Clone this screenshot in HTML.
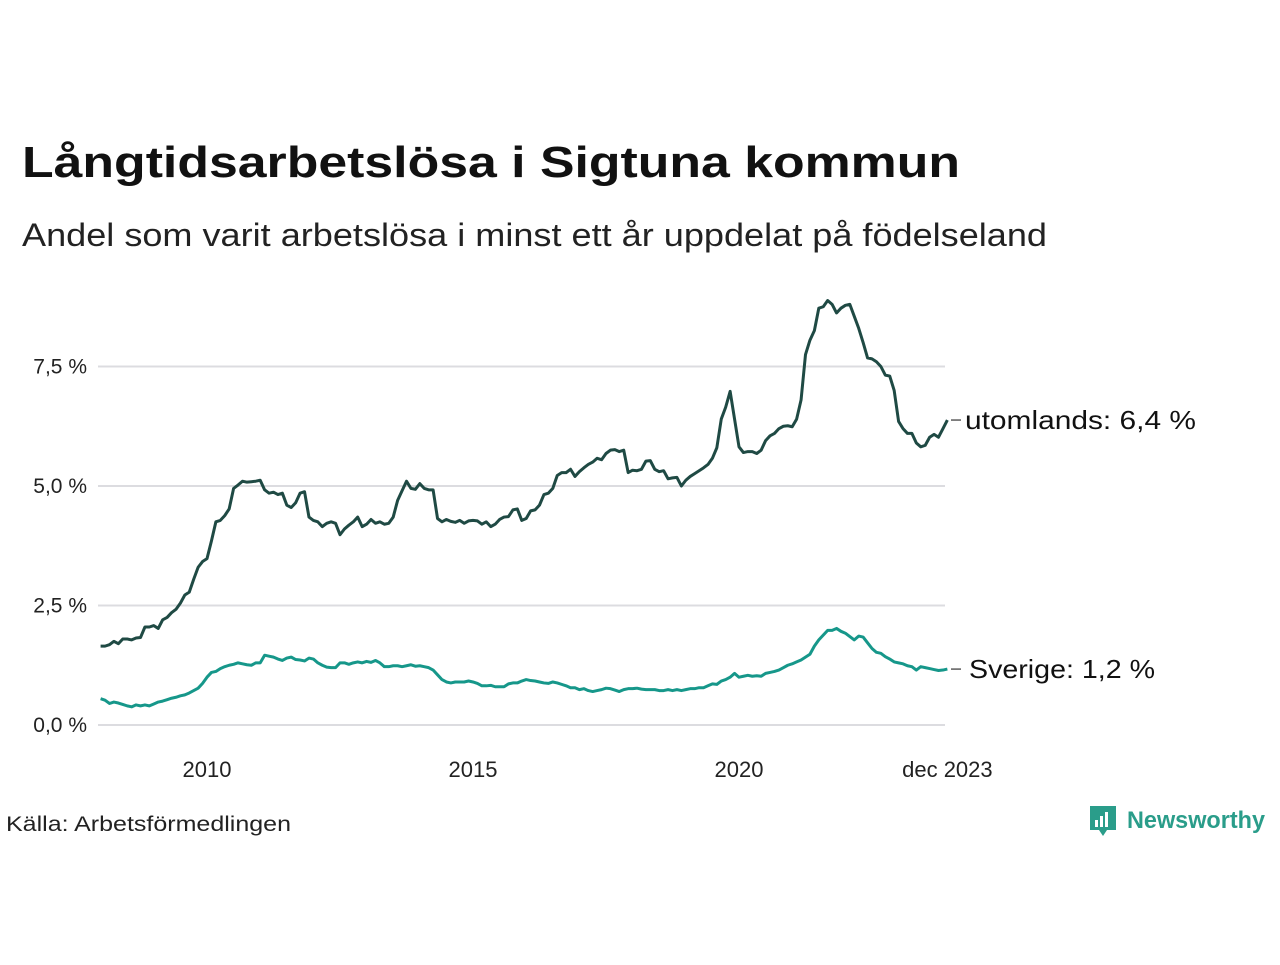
<!DOCTYPE html>
<html><head><meta charset="utf-8"><style>
body{margin:0;width:1280px;height:960px;background:#fff;font-family:"Liberation Sans","DejaVu Sans",sans-serif;overflow:hidden}
</style></head><body>
<svg width="1280" height="960">
<text x="22" y="177" font-size="44" font-weight="bold" fill="#111" textLength="938" lengthAdjust="spacingAndGlyphs">Långtidsarbetslösa i Sigtuna kommun</text>
<text x="22" y="246" font-size="32" fill="#222" textLength="1025" lengthAdjust="spacingAndGlyphs">Andel som varit arbetslösa i minst ett år uppdelat på födelseland</text>
<g id="grid"></g><g id="lines"></g>
<text x="6" y="831" font-size="21" fill="#222" textLength="285" lengthAdjust="spacingAndGlyphs">Källa: Arbetsförmedlingen</text>
<g>
<path d="M1090 806h26v24h-9l-4 6-4-6h-9z" fill="#2a9d8a"/>
<rect x="1095" y="820" width="3" height="7" fill="#fff"/><rect x="1100" y="816" width="3" height="11" fill="#fff"/><rect x="1105" y="812" width="3" height="15" fill="#fff"/>
<text x="1127" y="828" font-size="24" font-weight="bold" fill="#2a9d8a" textLength="138" lengthAdjust="spacingAndGlyphs">Newsworthy</text></g>
</svg>
<script>
const yTicks=[0,2.5,5,7.5];
const yTickLabels=["0,0 %","2,5 %","5,0 %","7,5 %"];
const xTicks=[2010,2015,2020,2023.917];
const xTickLabels=["2010","2015","2020","dec 2023"];
const startYear=2008;
const utomlands=[1.65,1.65,1.68,1.75,1.70,1.80,1.80,1.78,1.82,1.83,2.05,2.05,
2.08,2.02,2.20,2.25,2.35,2.42,2.55,2.72,2.78,3.05,3.30,3.42,
3.48,3.85,4.25,4.28,4.38,4.52,4.95,5.02,5.10,5.08,5.09,5.10,
5.12,4.92,4.85,4.87,4.82,4.85,4.60,4.55,4.65,4.85,4.88,4.35,
4.28,4.25,4.15,4.22,4.25,4.22,3.98,4.10,4.18,4.25,4.35,4.15,
4.20,4.30,4.22,4.25,4.20,4.22,4.35,4.70,4.90,5.10,4.95,4.93,
5.05,4.95,4.92,4.92,4.32,4.25,4.30,4.26,4.24,4.28,4.22,4.27,
4.28,4.27,4.20,4.25,4.15,4.20,4.30,4.35,4.36,4.50,4.52,4.28,
4.32,4.48,4.50,4.60,4.82,4.85,4.95,5.22,5.28,5.28,5.35,5.20,
5.30,5.38,5.45,5.50,5.58,5.55,5.68,5.75,5.76,5.72,5.75,5.28,
5.33,5.32,5.35,5.52,5.53,5.35,5.30,5.32,5.15,5.17,5.18,5.00,
5.12,5.20,5.26,5.32,5.38,5.45,5.58,5.80,6.40,6.65,6.98,6.40,
5.82,5.70,5.72,5.72,5.68,5.75,5.95,6.05,6.10,6.20,6.25,6.26,
6.24,6.40,6.80,7.75,8.05,8.25,8.72,8.75,8.88,8.80,8.62,8.72,
8.78,8.80,8.55,8.30,8.00,7.68,7.66,7.60,7.50,7.32,7.30,7.00,
6.35,6.20,6.10,6.10,5.90,5.82,5.85,6.02,6.08,6.02,6.20,6.38];
const sverige=[0.55,0.52,0.45,0.48,0.46,0.43,0.40,0.38,0.42,0.40,0.42,0.40,
0.44,0.48,0.50,0.53,0.56,0.58,0.61,0.63,0.67,0.72,0.77,0.87,
1.00,1.10,1.12,1.18,1.22,1.25,1.27,1.30,1.28,1.26,1.25,1.30,
1.30,1.46,1.44,1.42,1.38,1.35,1.40,1.42,1.37,1.36,1.34,1.40,
1.38,1.30,1.25,1.21,1.20,1.20,1.30,1.30,1.27,1.30,1.32,1.30,
1.33,1.31,1.35,1.30,1.22,1.22,1.24,1.24,1.22,1.24,1.26,1.23,
1.24,1.22,1.20,1.15,1.05,0.95,0.90,0.88,0.90,0.90,0.90,0.92,
0.90,0.87,0.82,0.82,0.83,0.80,0.80,0.80,0.86,0.88,0.88,0.92,
0.95,0.93,0.92,0.90,0.88,0.87,0.90,0.88,0.85,0.82,0.78,0.78,
0.74,0.76,0.72,0.70,0.72,0.74,0.77,0.76,0.73,0.70,0.74,0.76,
0.76,0.77,0.75,0.74,0.74,0.74,0.72,0.72,0.74,0.72,0.74,0.72,
0.74,0.76,0.76,0.78,0.78,0.82,0.86,0.85,0.92,0.95,1.00,1.08,
1.00,1.02,1.04,1.02,1.03,1.02,1.08,1.10,1.12,1.15,1.20,1.25,
1.28,1.32,1.36,1.42,1.48,1.65,1.78,1.88,1.98,1.98,2.02,1.96,
1.92,1.85,1.78,1.86,1.84,1.72,1.60,1.52,1.50,1.43,1.38,1.32,
1.30,1.28,1.24,1.22,1.15,1.22,1.20,1.18,1.16,1.14,1.15,1.17];
const seriesNames=["utomlands","Sverige"];
const seriesLabels=["utomlands: 6,4 %","Sverige: 1,2 %"];
const labelWidths=[231,186];
const NS="http://www.w3.org/2000/svg";
const xs=t=>207+(t-2010)*53.2;
const ys=v=>725-v*47.8;
const grid=document.getElementById('grid'),lines=document.getElementById('lines');
function mk(tag,attrs,parent){const e=document.createElementNS(NS,tag);for(const k in attrs)e.setAttribute(k,attrs[k]);parent.appendChild(e);return e;}
yTicks.forEach((v,i)=>{
 const l=mk('line',{x1:98,x2:945,y1:ys(v),y2:ys(v),stroke:'#dcdce0','stroke-width':2},grid);
 
 
 const t=mk('text',{x:87,y:ys(v)+7,'text-anchor':'end','font-size':21,fill:'#222'},grid);
 t.textContent=yTickLabels[i];
 
 
});
xTicks.forEach((v,i)=>{
 const t=mk('text',{x:xs(v),y:777,'text-anchor':'middle','font-size':22,fill:'#222'},grid);
 t.textContent=xTickLabels[i];
 
 
});
[[utomlands,'#1f4a44'],[sverige,'#16978a']].forEach(([d,c],k)=>{
 const pts=d.map((v,i)=>xs(startYear+i/12)+','+ys(v)).join(' ');
 const p=mk('polyline',{points:pts,fill:'none',stroke:c,'stroke-width':3,'stroke-linejoin':'round'},lines);
 
 
 const last=d[d.length-1];
 const tk=mk('line',{x1:951,x2:961,y1:ys(last),y2:ys(last),stroke:'#333','stroke-width':1.2},lines);
 
 
 const t=mk('text',{x:k==0?965:969,y:ys(last)+9,'font-size':26,fill:'#111',textLength:labelWidths[k],lengthAdjust:'spacingAndGlyphs'},lines);
 t.textContent=seriesLabels[k];
 
 
});
</script>
</body></html>
